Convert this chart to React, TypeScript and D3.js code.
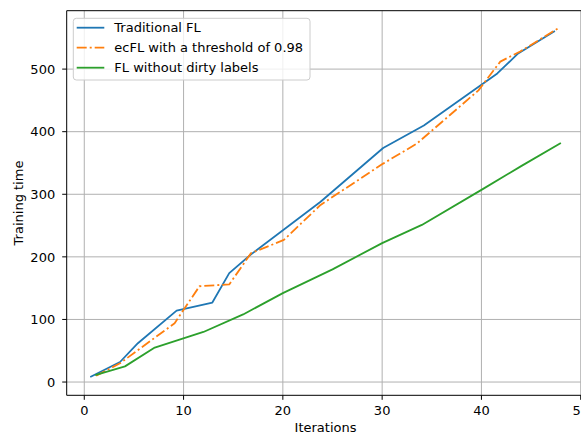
import React from "react";
import * as d3 from "d3";

// Training time versus iterations for three federated-learning setups
const traditionalX = [0.6, 3.6, 5.4, 9.3, 12.9, 14.6, 16.8, 23.8, 30.1, 34.2, 41.6, 43.7, 47.4];
const traditionalY = [8, 32, 62, 114, 127, 174, 204, 288, 374, 410, 493, 525, 561];

const ecflX = [1.2, 3.6, 9.1, 11.6, 14.6, 16.8, 20.1, 23.8, 30.1, 33.5, 39.7, 41.9, 43.9, 47.7];
const ecflY = [10, 30, 94, 153, 156, 206, 227, 283, 349, 381, 466, 512, 528, 565];

const cleanX = [1.1, 4.1, 7.1, 12, 16, 20, 25, 30, 34, 40, 44, 48];
const cleanY = [11, 25, 55, 80, 108, 142, 180, 222, 251, 307, 345, 382];

const seriesNames = ["Traditional FL", "ecFL with a threshold of 0.98", "FL without dirty labels"];
const seriesColors = ["#1f77b4", "#ff7f0e", "#2ca02c"];
const xTicks = [0, 10, 20, 30, 40, 50];
const yTicks = [0, 100, 200, 300, 400, 500];

const W = 581;
const H = 435;
const plot = { left: 66.7, top: 10.7, right: 584.4, bottom: 395.3 };
const FONT = "'DejaVu Sans', sans-serif";
const FS = 13;

export default function App() {
  const x = d3.scaleLinear().domain([-1.77, 50.37]).range([plot.left, plot.right]);
  const y = d3.scaleLinear().domain([-21.2, 593.3]).range([plot.bottom, plot.top]);

  const series = [
    { xs: traditionalX, ys: traditionalY, dash: undefined },
    { xs: ecflX, ys: ecflY, dash: "10,3,2,3" },
    { xs: cleanX, ys: cleanY, dash: undefined },
  ];

  const line = d3
    .line<[number, number]>()
    .x((d) => x(d[0]))
    .y((d) => y(d[1]));

  const legend = { x: 73.3, y: 18.3, w: 236.7, h: 61.7 };

  return (
    <svg
      width={W}
      height={H}
      style={{ position: "fixed", left: 0, top: 0, background: "#fff" }}
      fontFamily={FONT}
    >
      <defs>
        <clipPath id="plot-area">
          <rect x={plot.left} y={plot.top} width={plot.right - plot.left} height={plot.bottom - plot.top} />
        </clipPath>
      </defs>

      {/* grid */}
      {xTicks.map((t) => (
        <line key={"gx" + t} x1={x(t)} x2={x(t)} y1={plot.top} y2={plot.bottom} stroke="#b0b0b0" strokeWidth={1} />
      ))}
      {yTicks.map((t) => (
        <line key={"gy" + t} x1={plot.left} x2={plot.right} y1={y(t)} y2={y(t)} stroke="#b0b0b0" strokeWidth={1} />
      ))}

      {/* series */}
      <g clipPath="url(#plot-area)">
        {series.map((s, i) => (
          <path
            key={i}
            d={line(s.xs.map((v, j) => [v, s.ys[j]] as [number, number])) || ""}
            fill="none"
            stroke={seriesColors[i]}
            strokeWidth={1.8}
            strokeDasharray={s.dash}
            strokeLinejoin="round"
          />
        ))}
      </g>

      {/* spines */}
      <line x1={plot.left} x2={plot.left} y1={plot.top} y2={plot.bottom} stroke="#000" strokeWidth={1} />
      <line x1={plot.left} x2={plot.right} y1={plot.bottom} y2={plot.bottom} stroke="#000" strokeWidth={1} />
      <line x1={plot.left} x2={plot.right} y1={plot.top} y2={plot.top} stroke="#000" strokeWidth={1} />
      <line x1={plot.right} x2={plot.right} y1={plot.top} y2={plot.bottom} stroke="#000" strokeWidth={1} />

      {/* x axis ticks */}
      {xTicks.map((t) => (
        <g key={"xt" + t}>
          <line x1={x(t)} x2={x(t)} y1={plot.bottom} y2={plot.bottom + 4.5} stroke="#000" strokeWidth={1} />
          <text x={x(t)} y={plot.bottom + 19.5} textAnchor="middle" fontSize={FS} fill="#000">
            {t}
          </text>
        </g>
      ))}
      {/* y axis ticks */}
      {yTicks.map((t) => (
        <g key={"yt" + t}>
          <line x1={plot.left - 4.5} x2={plot.left} y1={y(t)} y2={y(t)} stroke="#000" strokeWidth={1} />
          <text x={plot.left - 11.5} y={y(t)} dy="0.36em" textAnchor="end" fontSize={FS} fill="#000">
            {t}
          </text>
        </g>
      ))}

      {/* axis labels */}
      <text x={(plot.left + plot.right) / 2} y={432} textAnchor="middle" fontSize={FS} fill="#000">
        Iterations
      </text>
      <text
        transform={`translate(23, ${(plot.top + plot.bottom) / 2}) rotate(-90)`}
        textAnchor="middle"
        fontSize={FS}
        fill="#000"
      >
        Training time
      </text>

      {/* legend */}
      <rect
        x={legend.x}
        y={legend.y}
        width={legend.w}
        height={legend.h}
        rx={3}
        fill="#fff"
        fillOpacity={0.8}
        stroke="#cccccc"
        strokeWidth={1}
      />
      {seriesNames.map((name, i) => {
        const cy = 27.7 + i * 20;
        return (
          <g key={name}>
            <line
              x1={76.7}
              x2={104.3}
              y1={cy}
              y2={cy}
              stroke={seriesColors[i]}
              strokeWidth={1.8}
              strokeDasharray={series[i].dash}
            />
            <text x={114.3} y={cy} dy="0.36em" fontSize={FS} fill="#000">
              {name}
            </text>
          </g>
        );
      })}
    </svg>
  );
}
